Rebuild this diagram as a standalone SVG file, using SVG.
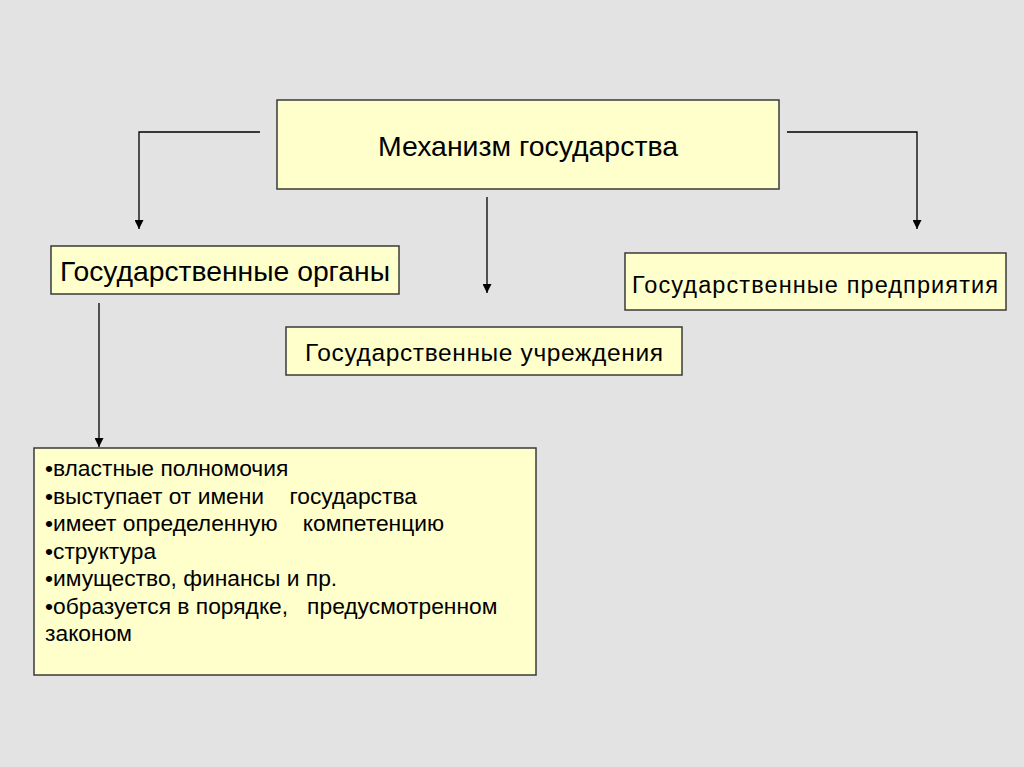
<svg xmlns="http://www.w3.org/2000/svg" width="1024" height="767" viewBox="0 0 1024 767">
<defs>
<style>
.box{fill:#ffffcc;stroke:#3a3a3a;stroke-width:1.5}
.t{font-family:"Liberation Sans",Arial,sans-serif;fill:#000}
.c{fill:none;stroke:#000;stroke-width:1.3}
</style>
<marker id="ah" viewBox="0 0 10 10" refX="10" refY="5" markerWidth="9" markerHeight="9" markerUnits="userSpaceOnUse" orient="auto">
<path d="M0,0 L10,5 L0,10 z" fill="#000"/>
</marker>
</defs>
<rect x="0" y="0" width="1024" height="767" fill="#e3e3e3"/>
<g id="connectors">
<path class="c" d="M260,132 H139 V229" marker-end="url(#ah)"/>
<path class="c" d="M787,132 H917 V229" marker-end="url(#ah)"/>
<path class="c" d="M487,197 V293" marker-end="url(#ah)"/>
<path class="c" d="M99,303 V447" marker-end="url(#ah)"/>
</g>
<g id="mechanism">
<rect class="box" x="277" y="100" width="502" height="89"/>
<text class="t" x="528" y="156" font-size="27.5" text-anchor="middle" textLength="300" lengthAdjust="spacingAndGlyphs">Механизм государства</text>
</g>
<g id="organs">
<rect class="box" x="51" y="246" width="348" height="48"/>
<text class="t" x="225" y="281" font-size="27.5" text-anchor="middle" textLength="330" lengthAdjust="spacingAndGlyphs">Государственные органы</text>
</g>
<g id="enterprises">
<rect class="box" x="625" y="253" width="381" height="57"/>
<text class="t" x="815" y="293" font-size="23.5" text-anchor="middle" textLength="366" lengthAdjust="spacing">Государственные предприятия</text>
</g>
<g id="institutions">
<rect class="box" x="286" y="327" width="396" height="48"/>
<text class="t" x="484" y="361" font-size="24.5" text-anchor="middle" textLength="358" lengthAdjust="spacing">Государственные учреждения</text>
</g>
<g id="features">
<rect class="box" x="34" y="448" width="502" height="227"/>
<text class="t" font-size="22.8" xml:space="preserve"><tspan x="45" y="476">•властные полномочия</tspan><tspan x="45" y="503.5">•выступает от имени    государства</tspan><tspan x="45" y="531">•имеет определенную    компетенцию</tspan><tspan x="45" y="558.5">•структура</tspan><tspan x="45" y="586">•имущество, финансы и пр.</tspan><tspan x="45" y="613.5">•образуется в порядке,   предусмотренном</tspan><tspan x="45" y="641">законом</tspan></text>
</g>
</svg>
